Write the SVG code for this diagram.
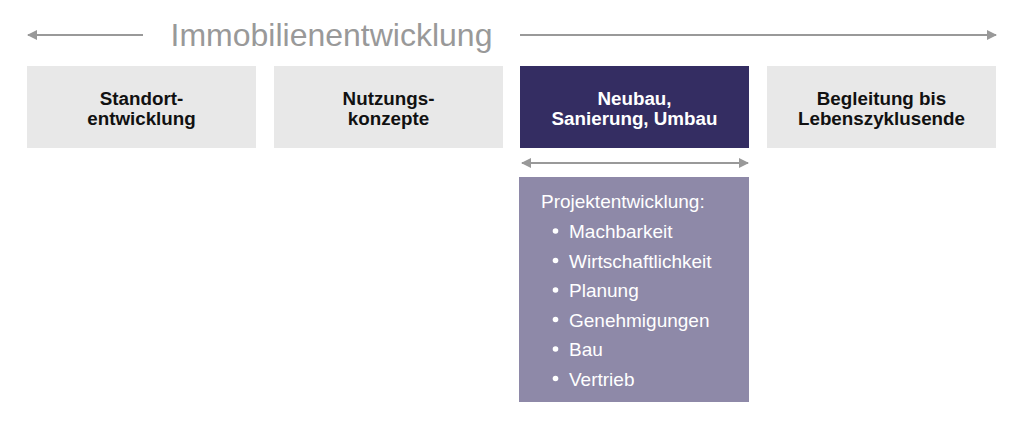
<svg xmlns="http://www.w3.org/2000/svg" width="1024" height="439" viewBox="0 0 1024 439">
<style>
.box{fill:#e8e8e8}
.lbl{font-family:"Liberation Sans",Arial,sans-serif;font-size:18.8px;font-weight:bold;text-anchor:middle;fill:#111}
.wl{fill:#fff}
.item{font-family:"Liberation Sans",Arial,sans-serif;font-size:19px;fill:#fff}
.ln{stroke:#999;stroke-width:2;fill:none}
</style>
<defs>
<marker id="ah" viewBox="0 0 10 10" refX="9" refY="5" markerWidth="5" markerHeight="5" orient="auto-start-reverse">
<path d="M0,0 L10,5 L0,10 z" fill="#999"/>
</marker>
</defs>
<text x="331.5" y="46" font-family="'Liberation Sans',Arial,sans-serif" font-size="32" fill="#999" text-anchor="middle">Immobilienentwicklung</text>
<g id="connectors">
<line class="ln" x1="143" y1="35" x2="28" y2="35" marker-end="url(#ah)"/>
<line class="ln" x1="520" y1="35" x2="996" y2="35" marker-end="url(#ah)"/>
<line class="ln" x1="522" y1="163" x2="748" y2="163" marker-start="url(#ah)" marker-end="url(#ah)"/>
</g>
<g id="n1">
<rect class="box" x="27" y="66" width="229" height="82"/>
<text class="lbl" x="141.5" y="105">Standort-</text>
<text class="lbl" x="141.5" y="125">entwicklung</text>
</g>
<g id="n2">
<rect class="box" x="274" y="66" width="229" height="82"/>
<text class="lbl" x="388.5" y="105">Nutzungs-</text>
<text class="lbl" x="388.5" y="125">konzepte</text>
</g>
<g id="n3">
<rect x="520" y="66" width="229" height="82" fill="#342d62"/>
<text class="lbl wl" x="634.5" y="105">Neubau,</text>
<text class="lbl wl" x="634.5" y="125">Sanierung, Umbau</text>
</g>
<g id="n4">
<rect class="box" x="767" y="66" width="229" height="82"/>
<text class="lbl" x="881.5" y="105">Begleitung bis</text>
<text class="lbl" x="881.5" y="125">Lebenszyklusende</text>
</g>
<g id="n5">
<rect x="519" y="177" width="230" height="225" fill="#8e89a8"/>
<text class="item" x="541" y="208">Projektentwicklung:</text>
<g fill="#fff">
<circle cx="555.5" cy="231" r="2.8"/>
<circle cx="555.5" cy="260.5" r="2.8"/>
<circle cx="555.5" cy="290" r="2.8"/>
<circle cx="555.5" cy="319.5" r="2.8"/>
<circle cx="555.5" cy="349" r="2.8"/>
<circle cx="555.5" cy="378.5" r="2.8"/>
</g>
<text class="item" x="569" y="238">Machbarkeit</text>
<text class="item" x="569" y="267.5">Wirtschaftlichkeit</text>
<text class="item" x="569" y="297">Planung</text>
<text class="item" x="569" y="326.5">Genehmigungen</text>
<text class="item" x="569" y="356">Bau</text>
<text class="item" x="569" y="385.5">Vertrieb</text>
</g>
</svg>
